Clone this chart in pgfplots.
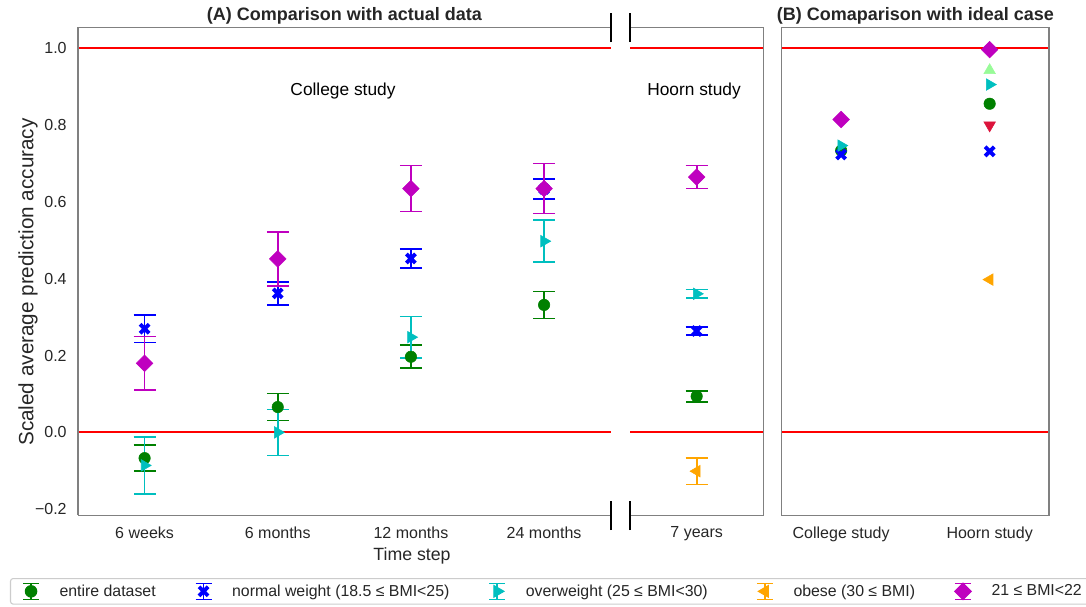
\documentclass[border=0pt]{standalone}
\usepackage{fontspec}
\setmainfont{Liberation Sans}
\usepackage{pgfplots}
\pgfplotsset{compat=1.18}
\definecolor{cgreen}{HTML}{008000}
\definecolor{cblue}{HTML}{0000FF}
\definecolor{ccyan}{HTML}{00BFBF}
\definecolor{corange}{HTML}{FFA500}
\definecolor{cmag}{HTML}{BF00BF}
\definecolor{clgreen}{HTML}{98FB98}
\definecolor{ccrim}{HTML}{DC143C}
\definecolor{txt}{HTML}{262626}
\definecolor{spinec}{HTML}{808080}
\definecolor{legbox}{HTML}{CCCCCC}
\pgfdeclareplotmark{bigX}{%
  \pgfsetlinewidth{2.9pt}%
  \pgfsetbuttcap
  \pgfpathmoveto{\pgfqpoint{-\pgfplotmarksize}{-\pgfplotmarksize}}%
  \pgfpathlineto{\pgfqpoint{\pgfplotmarksize}{\pgfplotmarksize}}%
  \pgfpathmoveto{\pgfqpoint{-\pgfplotmarksize}{\pgfplotmarksize}}%
  \pgfpathlineto{\pgfqpoint{\pgfplotmarksize}{-\pgfplotmarksize}}%
  \pgfusepathqstroke}
\tikzset{spine/.style={draw=spinec,line width=1.1pt},
         brk/.style={draw=black,line width=1.3pt}}
\pgfplotsset{
  base/.style={
    scale only axis, height=366pt, ymin=-0.216, ymax=1.055,
    axis line style={draw=none},
    major tick length=0pt,
    clip=false,
    extra y ticks={0,1}, extra y tick labels={},
    extra y tick style={grid=major, major grid style={red, line width=1.5pt}},
    tick label style={font=\fontsize{12}{14}\selectfont, text=txt},
    xticklabel style={yshift=-5pt},
    yticklabel style={xshift=-5pt},
  },
  eb/.style={error bars/.cd, y dir=both, y explicit,
    error bar style={line width=1.25pt},
    error mark options={rotate=90, mark size=8.25pt, line width=1.25pt}},
  ebleg/.style={legend image code/.code={
     \path (0pt,-6pt) (36pt,6pt);
     \draw[##1,mark=none,line width=1.2pt] (15pt,-6pt) -- (15pt,6pt);
     \draw[##1,mark=none,line width=1.2pt] (9pt,-6pt) -- (21pt,-6pt);
     \draw[##1,mark=none,line width=1.2pt] (9pt,6pt) -- (21pt,6pt);
     \draw[##1] plot coordinates {(15pt,0pt)};
  }},
  sgreen/.style={only marks, color=cgreen, mark=*, mark size=4.3pt, ebleg},
  sblue/.style={only marks, color=cblue, mark=bigX, mark size=3.4pt, ebleg},
  scyan/.style={only marks, color=ccyan, mark=triangle*, mark size=5pt, mark options={rotate=-90}, ebleg},
  sorange/.style={only marks, color=corange, mark=triangle*, mark size=5pt, mark options={rotate=90}, ebleg},
  smag/.style={only marks, color=cmag, mark=square*, mark size=4.4pt, mark options={rotate=45}, ebleg},
  slg/.style={only marks, color=clgreen, mark=triangle*, mark size=5pt},
  scr/.style={only marks, color=ccrim, mark=triangle*, mark size=5pt, mark options={rotate=180}},
}
\begin{document}
\begin{tikzpicture}
% (A) College study
\begin{axis}[base, at={(58.5pt,-386.5pt)}, anchor=south west, width=399.5pt,
  xmin=-0.5, xmax=3.5, xtick={0,1,2,3},
  xticklabels={6 weeks,6 months,12 months,24 months},
  ytick={-0.2,0,0.2,0.4,0.6,0.8,1.0},
  yticklabels={−0.2,0.0,0.2,0.4,0.6,0.8,1.0},
  legend columns=5,
  legend style={at={(axis description cs:-0.1277,-0.1284)}, anchor=north west,
    draw=legbox, line width=0.8pt, rounded corners=2pt,
    font=\fontsize{11.9}{14}\selectfont, text=txt,
    inner xsep=0pt, inner ysep=3pt,
    nodes={inner sep=0pt},
    /tikz/every even column/.append style={column sep=20.5pt}},
  legend cell align=left]
\addplot[sgreen, eb] coordinates {(0,-0.067) +- (0,0.034) (1,0.066) +- (0,0.035) (2,0.197) +- (0,0.030) (3,0.332) +- (0,0.035)};
\addlegendentry{entire dataset}
\addplot[sblue, eb] coordinates {(0,0.270) +- (0,0.036) (1,0.362) +- (0,0.030) (2,0.453) +- (0,0.025) (3,0.634) +- (0,0.026)};
\addlegendentry{normal weight (18.5 ≤ BMI<25)}
\addplot[scyan, eb] coordinates {(0,-0.086) +- (0,0.074) (1,0.000) +- (0,0.060) (2,0.248) +- (0,0.054) (3,0.498) +- (0,0.055)};
\addlegendentry{overweight (25 ≤ BMI<30)\hspace*{7pt}}
\addlegendimage{sorange}
\addlegendentry{obese (30 ≤ BMI)}
\addplot[smag, eb] coordinates {(0,0.180) +- (0,0.070) (1,0.452) +- (0,0.070) (2,0.635) +- (0,0.060) (3,0.635) +- (0,0.065)};
\addlegendentry{21 ≤ BMI<22\hspace*{80pt}}
\draw[spine] (rel axis cs:0,0) -- (rel axis cs:1,0);
\draw[spine] (rel axis cs:1,1) -- (rel axis cs:0,1) -- (rel axis cs:0,0);
\draw[brk] ([yshift=-11pt]rel axis cs:1,1) -- ([yshift=11pt]rel axis cs:1,1);
\draw[brk] ([yshift=-11pt]rel axis cs:1,0) -- ([yshift=11pt]rel axis cs:1,0);
\node[font=\fontsize{13}{15}\selectfont, text=black] at (axis cs:1.49,0.889) {College study};
\node[font=\bfseries\fontsize{13.5}{16}\selectfont, text=txt, anchor=base] at ([yshift=5pt]rel axis cs:0.5,1) {(A) Comparison with actual data};
\end{axis}
% Hoorn study
\begin{axis}[base, at={(472.5pt,-386.5pt)}, anchor=south west, width=100pt,
  xmin=-0.5, xmax=0.5, xtick={0}, xticklabels={7 years}, ytick=\empty]
\addplot[sgreen, eb] coordinates {(0,0.094) +- (0,0.014)};
\addplot[sblue, eb] coordinates {(0,0.264) +- (0,0.010)};
\addplot[scyan, eb] coordinates {(0,0.361) +- (0,0.011)};
\addplot[sorange, eb] coordinates {(0,-0.101) +- (0,0.035)};
\addplot[smag, eb] coordinates {(0,0.665) +- (0,0.030)};
\draw[spine] (rel axis cs:0,0) -- (rel axis cs:1,0) -- (rel axis cs:1,1) -- (rel axis cs:0,1);
\draw[brk] ([yshift=-11pt]rel axis cs:0,1) -- ([yshift=11pt]rel axis cs:0,1);
\draw[brk] ([yshift=-11pt]rel axis cs:0,0) -- ([yshift=11pt]rel axis cs:0,0);
\node[font=\fontsize{13}{15}\selectfont, text=black] at (axis cs:-0.02,0.889) {Hoorn study};
\end{axis}
% (B) ideal case
\begin{axis}[base, at={(586.3pt,-386.5pt)}, anchor=south west, width=200.5pt,
  xmin=-0.4, xmax=1.4, xtick={0,1}, xticklabels={College study,Hoorn study}, ytick=\empty]
\addplot[sgreen] coordinates {(0,0.734) (1,0.856)};
\addplot[sblue] coordinates {(0,0.724) (1,0.732)};
\addplot[scyan] coordinates {(0,0.747) (1,0.906)};
\addplot[sorange] coordinates {(1,0.398)};
\addplot[smag] coordinates {(0,0.815) (1,0.997)};
\addplot[slg] coordinates {(1,0.943)};
\addplot[scr] coordinates {(1,0.800)};
\draw[spine] (rel axis cs:0,0) rectangle (rel axis cs:1,1);
\node[font=\bfseries\fontsize{13.5}{16}\selectfont, text=txt, anchor=base] at ([yshift=5pt]rel axis cs:0.5,1) {(B) Comaparison with ideal case};
\end{axis}
\node[font=\fontsize{13.3}{16}\selectfont, text=txt] at (309pt,-417pt) {Time step};
\node[font=\fontsize{15.5}{18}\selectfont, text=txt, rotate=90] at (21pt,-211.5pt) {Scaled average prediction accuracy};
\pgfresetboundingbox
\useasboundingbox (0pt,0pt) rectangle (814.5pt,-455.25pt);
\end{tikzpicture}
\end{document}
